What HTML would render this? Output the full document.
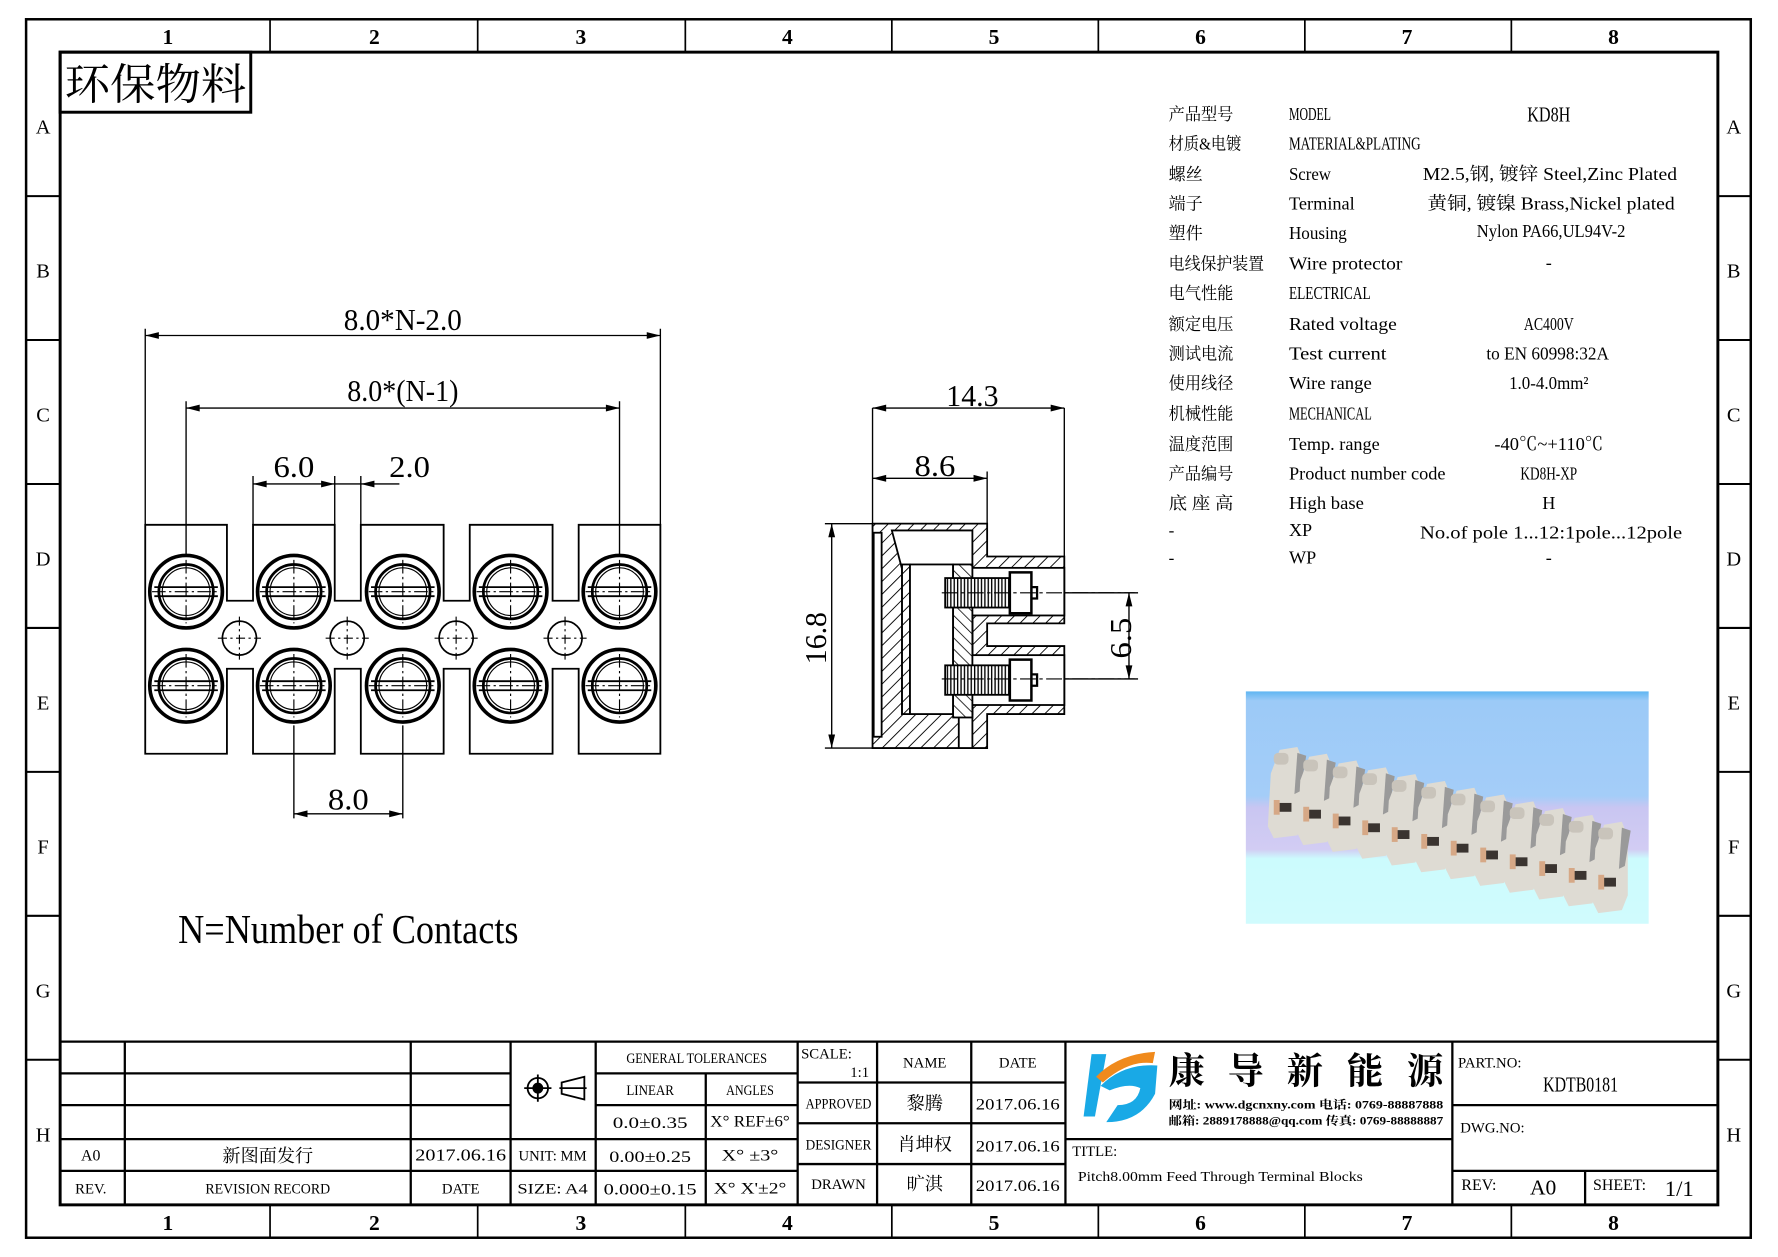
<!DOCTYPE html>
<html><head><meta charset="utf-8"><style>
html,body{margin:0;padding:0;background:#fff}
svg{display:block}
text{font-family:"Liberation Serif","Noto Serif CJK SC","Noto Sans CJK SC",serif;fill:#000}
.s{font-family:"Liberation Sans","Noto Sans CJK SC",sans-serif}
</style></head><body>
<svg xmlns="http://www.w3.org/2000/svg" width="1778" height="1257" viewBox="0 0 1567 1109" preserveAspectRatio="none">
<defs>
<pattern id="h" width="8" height="8" patternUnits="userSpaceOnUse" patternTransform="rotate(45)"><rect width="8" height="8" fill="#fff"/><line x1="0" y1="0" x2="0" y2="8" stroke="#000" stroke-width="1.6"/></pattern>
<pattern id="h2" width="7" height="7" patternUnits="userSpaceOnUse" patternTransform="rotate(-45)"><rect width="7" height="7" fill="#fff"/><line x1="0" y1="0" x2="0" y2="7" stroke="#000" stroke-width="1.4"/></pattern>
<pattern id="th" width="3" height="20" patternUnits="userSpaceOnUse"><rect width="3" height="20" fill="#fff"/><line x1="1" y1="0" x2="1" y2="20" stroke="#000" stroke-width="1.2"/></pattern>
<linearGradient id="bg" x1="0" y1="0" x2="0" y2="1">
<stop offset="0" stop-color="#5fb6f2"/><stop offset="0.04" stop-color="#9ccaf7"/><stop offset="0.45" stop-color="#a4cdf8"/><stop offset="0.5" stop-color="#c9c6f2"/><stop offset="0.68" stop-color="#d2ccf3"/><stop offset="0.72" stop-color="#ccfbfd"/><stop offset="1" stop-color="#d0fbfd"/></linearGradient>
<g id="sc" fill="none" stroke="#000">
<circle r="32" stroke-width="3.2"/><circle r="24" stroke-width="2.4"/><circle r="21" stroke-width="1"/>
<line x1="-28" y1="-4" x2="28" y2="-4" stroke-width="1.6"/><line x1="-28" y1="4" x2="28" y2="4" stroke-width="1.6"/>
<line x1="-30" y1="0" x2="30" y2="0" stroke-width="1" stroke-dasharray="12,3,2,3"/>
<line x1="0" y1="-28" x2="0" y2="28" stroke-width="1" stroke-dasharray="12,3,2,3"/>
</g>
<g id="sm" fill="none" stroke="#000" stroke-width="1.5"><circle r="15"/><line x1="-19" y1="0" x2="19" y2="0" stroke-width="1" stroke-dasharray="8,3,2,3"/><line x1="0" y1="-19" x2="0" y2="19" stroke-width="1" stroke-dasharray="8,3,2,3"/></g>
<g id="blk" transform="scale(1.3)"><path d="M0,8 L6,-8 L18,-10 L22,0 L22,40 L18,50 L2,52 L-2,44 Z" fill="#dedbd3"/><rect x="2" y="-6" width="10" height="8" rx="3" fill="#c9c4bb"/><path d="M18,-6 L24,-4 L20,20 L16,22Z" fill="#9a9a9a"/><rect x="4" y="28" width="10" height="6" fill="#3a3430"/><rect x="2" y="26" width="4" height="10" fill="#d6a886"/></g>
</defs>
<rect width="1567" height="1109" fill="#fff"/>
<!-- frame -->
<g fill="none" stroke="#000">
<rect x="23" y="17" width="1520" height="1075" stroke-width="2.2"/>
<rect x="53" y="46" width="1461" height="1017" stroke-width="2.6"/>
<path d="M238,17V46M421,17V46M604,17V46M786,17V46M968,17V46M1150,17V46M1332,17V46M238,1063V1092M421,1063V1092M604,1063V1092M786,1063V1092M968,1063V1092M1150,1063V1092M1332,1063V1092" stroke-width="1.5"/>
<path d="M23,173H53M23,300H53M23,427H53M23,554H53M23,681H53M23,808H53M23,935H53M1514,173H1543M1514,300H1543M1514,427H1543M1514,554H1543M1514,681H1543M1514,808H1543M1514,935H1543" stroke-width="1.8"/>
</g>
<g class="s" font-size="19" text-anchor="middle" font-weight="bold">
<text x="148" y="39">1</text><text x="330" y="39">2</text><text x="512" y="39">3</text><text x="694" y="39">4</text><text x="876" y="39">5</text><text x="1058" y="39">6</text><text x="1240" y="39">7</text><text x="1422" y="39">8</text>
<text x="148" y="1085">1</text><text x="330" y="1085">2</text><text x="512" y="1085">3</text><text x="694" y="1085">4</text><text x="876" y="1085">5</text><text x="1058" y="1085">6</text><text x="1240" y="1085">7</text><text x="1422" y="1085">8</text>
</g>
<g class="s" font-size="18" text-anchor="middle">
<text x="38" y="118">A</text><text x="38" y="245">B</text><text x="38" y="372">C</text><text x="38" y="499">D</text><text x="38" y="626">E</text><text x="38" y="753">F</text><text x="38" y="880">G</text><text x="38" y="1007">H</text>
<text x="1528" y="118">A</text><text x="1528" y="245">B</text><text x="1528" y="372">C</text><text x="1528" y="499">D</text><text x="1528" y="626">E</text><text x="1528" y="753">F</text><text x="1528" y="880">G</text><text x="1528" y="1007">H</text>
</g>
<rect x="53" y="46" width="168" height="53" fill="none" stroke="#000" stroke-width="2.6"/>
<text x="57" y="88" font-size="38" textLength="160" lengthAdjust="spacingAndGlyphs">环保物料</text>

<!-- front view -->
<g fill="none" stroke="#000" stroke-width="1.6">
<path d="M128,463H200V530H223V463H295V530H318V463H391V530H414V463H487V530H510V463H582V665H510V590H487V665H414V590H391V665H318V590H295V665H223V590H200V665H128Z" fill="#fff"/>
<path d="M128,290V463M582,290V463M128,296H582M164,354V490M546,354V490M164,360H546M223,420V463M295,420V463M318,420V463M223,427H295M295,427H352M259,640V722M355,640V722M259,718H355" stroke-width="1.2"/>
<path d="M128,296l12,-3v6zM582,296l-12,-3v6zM164,360l12,-3v6zM546,360l-12,-3v6zM223,427l12,-3v6zM295,427l-12,-3v6zM318,427l12,-3v6zM259,718l12,-3v6zM355,718l-12,-3v6z" fill="#000" stroke="none"/>
</g>
<use href="#sc" x="164" y="522"/><use href="#sc" x="259" y="522"/><use href="#sc" x="355" y="522"/><use href="#sc" x="450" y="522"/><use href="#sc" x="546" y="522"/>
<use href="#sc" x="164" y="605"/><use href="#sc" x="259" y="605"/><use href="#sc" x="355" y="605"/><use href="#sc" x="450" y="605"/><use href="#sc" x="546" y="605"/>
<use href="#sm" x="211" y="563"/><use href="#sm" x="306" y="563"/><use href="#sm" x="402" y="563"/><use href="#sm" x="498" y="563"/>
<g font-size="27" text-anchor="middle">
<text x="355" y="291" textLength="104" lengthAdjust="spacingAndGlyphs">8.0*N-2.0</text>
<text x="355" y="354" textLength="98" lengthAdjust="spacingAndGlyphs">8.0*(N-1)</text>
<text x="259" y="421" textLength="36" lengthAdjust="spacingAndGlyphs">6.0</text>
<text x="361" y="421" textLength="36" lengthAdjust="spacingAndGlyphs">2.0</text>
<text x="307" y="714" textLength="36" lengthAdjust="spacingAndGlyphs">8.0</text>
</g>
<text x="157" y="832" font-size="36" textLength="300" lengthAdjust="spacingAndGlyphs">N=Number of Contacts</text>

<!-- side view -->
<g stroke="#000" stroke-width="1.6" fill="none">
<path d="M769,360V462M938,360V491M870,416V462M769,360H938M769,422H870M727,462H769M727,660H769M733,462V660M938,523H1003M938,599H1003M995,523V599" stroke-width="1.2"/>
<path d="M769,360l12,-3v6zM938,360l-12,-3v6zM769,422l12,-3v6zM870,422l-12,-3v6zM733,462l-3,12h6zM733,660l-3,-12h6zM995,523l-3,12h6zM995,599l-3,-12h6z" fill="#000" stroke="none"/>
<path d="M769,462H870V491H938V550H870V570H938V630H870V660H769Z" fill="url(#h)"/>
<rect x="770" y="470" width="7" height="180" fill="#fff"/>
<path d="M786,468H857V660H845V502H795Z" fill="#fff"/>
<path d="M795,502H857V630H795Z" fill="#fff"/>
<rect x="795" y="498" width="7" height="132" fill="url(#h)"/>
<rect x="802" y="498" width="38" height="132" fill="#fff"/>
<rect x="840" y="498" width="17" height="135" fill="url(#h2)"/>
<rect x="857" y="501" width="81" height="42" fill="#fff"/>
<rect x="857" y="578" width="81" height="44" fill="#fff"/>
<rect x="833" y="510" width="57" height="26" fill="url(#th)"/>
<rect x="833" y="587" width="57" height="26" fill="url(#th)"/>
<path d="M890,505H909V541H890ZM890,582H909V618H890Z" fill="#fff" stroke-width="2.2"/>
<path d="M909,518h5v10h-5M909,595h5v10h-5" stroke-width="2"/>
<path d="M830,523H1000M830,599H1000" stroke-width="1" stroke-dasharray="14,3,3,3"/>
</g>
<g font-size="27" text-anchor="middle">
<text x="857" y="358" textLength="46" lengthAdjust="spacingAndGlyphs">14.3</text>
<text x="824" y="420" textLength="36" lengthAdjust="spacingAndGlyphs">8.6</text>
<text transform="translate(728,563) rotate(-90)" textLength="46" lengthAdjust="spacingAndGlyphs">16.8</text>
<text transform="translate(997,563) rotate(-90)" textLength="36" lengthAdjust="spacingAndGlyphs">6.5</text>
</g>

<!-- spec table -->
<g font-size="16">
<g font-size="15">
<text x="1030" y="106" textLength="57" lengthAdjust="spacingAndGlyphs">产品型号</text><text x="1030" y="132" textLength="64" lengthAdjust="spacingAndGlyphs">材质&amp;电镀</text><text x="1030" y="159">螺丝</text><text x="1030" y="185">端子</text><text x="1030" y="211">塑件</text><text x="1030" y="238" textLength="84" lengthAdjust="spacingAndGlyphs">电线保护装置</text><text x="1030" y="264" textLength="57" lengthAdjust="spacingAndGlyphs">电气性能</text><text x="1030" y="291" textLength="57" lengthAdjust="spacingAndGlyphs">额定电压</text><text x="1030" y="317" textLength="57" lengthAdjust="spacingAndGlyphs">测试电流</text><text x="1030" y="343" textLength="57" lengthAdjust="spacingAndGlyphs">使用线径</text><text x="1030" y="370" textLength="57" lengthAdjust="spacingAndGlyphs">机械性能</text><text x="1030" y="397" textLength="57" lengthAdjust="spacingAndGlyphs">温度范围</text><text x="1030" y="423" textLength="57" lengthAdjust="spacingAndGlyphs">产品编号</text><text x="1030" y="449" textLength="57" lengthAdjust="spacingAndGlyphs">底 座 高</text><text x="1030" y="473">-</text><text x="1030" y="497">-</text>
</g>
<g>
<text x="1136" y="106" textLength="37" lengthAdjust="spacingAndGlyphs">MODEL</text>
<text x="1136" y="132" textLength="116" lengthAdjust="spacingAndGlyphs">MATERIAL&amp;PLATING</text>
<text x="1136" y="159" textLength="37" lengthAdjust="spacingAndGlyphs">Screw</text>
<text x="1136" y="185" textLength="58" lengthAdjust="spacingAndGlyphs">Terminal</text>
<text x="1136" y="211" textLength="51" lengthAdjust="spacingAndGlyphs">Housing</text>
<text x="1136" y="238" textLength="100" lengthAdjust="spacingAndGlyphs">Wire protector</text>
<text x="1136" y="264" textLength="72" lengthAdjust="spacingAndGlyphs">ELECTRICAL</text>
<text x="1136" y="291" textLength="95" lengthAdjust="spacingAndGlyphs">Rated voltage</text>
<text x="1136" y="317" textLength="86" lengthAdjust="spacingAndGlyphs">Test current</text>
<text x="1136" y="343" textLength="73" lengthAdjust="spacingAndGlyphs">Wire range</text>
<text x="1136" y="370" textLength="73" lengthAdjust="spacingAndGlyphs">MECHANICAL</text>
<text x="1136" y="397" textLength="80" lengthAdjust="spacingAndGlyphs">Temp. range</text>
<text x="1136" y="423" textLength="138" lengthAdjust="spacingAndGlyphs">Product number code</text>
<text x="1136" y="449" textLength="66" lengthAdjust="spacingAndGlyphs">High base</text>
<text x="1136" y="473">XP</text>
<text x="1136" y="497">WP</text>
</g>
<g text-anchor="middle">
<text x="1365" y="107" font-size="19" textLength="38" lengthAdjust="spacingAndGlyphs">KD8H</text>
<text x="1366" y="159" textLength="224" lengthAdjust="spacingAndGlyphs">M2.5,钢, 镀锌 Steel,Zinc Plated</text>
<text x="1367" y="185" textLength="218" lengthAdjust="spacingAndGlyphs">黄铜, 镀镍 Brass,Nickel plated</text>
<text x="1367" y="209" textLength="131" lengthAdjust="spacingAndGlyphs">Nylon PA66,UL94V-2</text>
<text x="1365" y="237">-</text>
<text x="1365" y="291" textLength="44" lengthAdjust="spacingAndGlyphs">AC400V</text>
<text x="1364" y="317" textLength="108" lengthAdjust="spacingAndGlyphs">to EN 60998:32A</text>
<text x="1365" y="343" textLength="70" lengthAdjust="spacingAndGlyphs">1.0-4.0mm²</text>
<text x="1365" y="397" textLength="96" lengthAdjust="spacingAndGlyphs">-40℃~+110℃</text>
<text x="1365" y="423" textLength="50" lengthAdjust="spacingAndGlyphs">KD8H-XP</text>
<text x="1365" y="449">H</text>
<text x="1367" y="475" textLength="231" lengthAdjust="spacingAndGlyphs">No.of pole 1...12:1pole...12pole</text>
<text x="1365" y="497">-</text>
</g>
</g>

<!-- photo -->
<rect x="1098" y="610" width="355" height="205" fill="url(#bg)"/>
<g>
<use href="#blk" x="1120" y="672"/><use href="#blk" x="1146" y="678"/><use href="#blk" x="1172" y="684"/><use href="#blk" x="1198" y="690"/><use href="#blk" x="1224" y="696"/><use href="#blk" x="1250" y="702"/><use href="#blk" x="1276" y="708"/><use href="#blk" x="1302" y="714"/><use href="#blk" x="1328" y="720"/><use href="#blk" x="1354" y="726"/><use href="#blk" x="1380" y="732"/><use href="#blk" x="1406" y="738"/>
</g>

<!-- title block -->
<g fill="none" stroke="#000" stroke-width="2">
<path d="M53,919H1514"/>
<path d="M53,947H450M53,975H450M53,1005H703M53,1033H703M525,947H703M525,975H703"/>
<path d="M110,919V1063M362,919V1063M450,919V1063M525,919V1063M622,947V1063M703,919V1063M773,919V1063M856,919V1063M939,919V1063"/>
<path d="M703,955H939M703,991H939M703,1027H939"/>
<path d="M939,1005H1280M1280,919V1063M1280,975H1514M1280,1033H1514M1397,1033V1063"/>
</g>
<g fill="none" stroke="#000" stroke-width="1.6"><circle cx="474" cy="960" r="9"/><circle cx="474" cy="960" r="4" fill="#000"/><path d="M462,960H486M474,948V972M493,960H517M495,955L515,950V970L495,965Z"/></g>
<g font-size="13" text-anchor="middle">
<text x="614" y="938" textLength="124" lengthAdjust="spacingAndGlyphs">GENERAL TOLERANCES</text>
<text x="573" y="966" textLength="42" lengthAdjust="spacingAndGlyphs">LINEAR</text>
<text x="661" y="966" textLength="42" lengthAdjust="spacingAndGlyphs">ANGLES</text>
<text x="573" y="995" font-size="14" textLength="66" lengthAdjust="spacingAndGlyphs">0.0±0.35</text>
<text x="661" y="994" font-size="14" textLength="70" lengthAdjust="spacingAndGlyphs">X° REF±6°</text>
<text x="80" y="1024" font-size="14">A0</text>
<text x="236" y="1025" font-size="16">新图面发行</text>
<text x="406" y="1024" font-size="15" textLength="80" lengthAdjust="spacingAndGlyphs">2017.06.16</text>
<text x="487" y="1024" textLength="60" lengthAdjust="spacingAndGlyphs">UNIT: MM</text>
<text x="573" y="1025" font-size="14" textLength="72" lengthAdjust="spacingAndGlyphs">0.00±0.25</text>
<text x="661" y="1024" font-size="14" textLength="50" lengthAdjust="spacingAndGlyphs">X° ±3°</text>
<text x="80" y="1053">REV.</text>
<text x="236" y="1053" textLength="110" lengthAdjust="spacingAndGlyphs">REVISION RECORD</text>
<text x="406" y="1053">DATE</text>
<text x="487" y="1053" textLength="62" lengthAdjust="spacingAndGlyphs">SIZE: A4</text>
<text x="573" y="1054" font-size="14" textLength="82" lengthAdjust="spacingAndGlyphs">0.000±0.15</text>
<text x="661" y="1053" font-size="14" textLength="64" lengthAdjust="spacingAndGlyphs">X° X'±2°</text>
<text x="815" y="942">NAME</text><text x="897" y="942">DATE</text>
<text x="739" y="978" textLength="58" lengthAdjust="spacingAndGlyphs">APPROVED</text>
<text x="815" y="979" font-size="16">黎腾</text>
<text x="897" y="979" font-size="14" textLength="74" lengthAdjust="spacingAndGlyphs">2017.06.16</text>
<text x="739" y="1014" textLength="58" lengthAdjust="spacingAndGlyphs">DESIGNER</text>
<text x="815" y="1015" font-size="16">肖坤权</text>
<text x="897" y="1016" font-size="14" textLength="74" lengthAdjust="spacingAndGlyphs">2017.06.16</text>
<text x="739" y="1049">DRAWN</text>
<text x="815" y="1050" font-size="16">旷淇</text>
<text x="897" y="1051" font-size="14" textLength="74" lengthAdjust="spacingAndGlyphs">2017.06.16</text>
</g>
<text x="706" y="934" font-size="13">SCALE:</text><text x="766" y="950" font-size="13" text-anchor="end">1:1</text>
<!-- logo -->
<path d="M962,930 L975,930 L965,985 L955,985Z" fill="#19a9e6"/>
<path d="M970,958 Q990,938 1020,940 L1018,965 Q1005,990 975,990 L985,975 Q1002,975 1005,960 Q995,955 978,962Z" fill="#19a9e6"/>
<path d="M966,950 Q985,930 1018,928 L1016,938 Q995,935 972,955Z" fill="#f08a1c"/>
<g font-size="32" class="s" font-weight="bold"><text x="1030" y="956">康</text><text x="1082" y="956">导</text><text x="1134" y="956">新</text><text x="1187" y="956">能</text><text x="1240" y="956">源</text></g>
<g class="s" font-size="10" font-weight="bold">
<text x="1030" y="978" textLength="242" lengthAdjust="spacingAndGlyphs">网址: www.dgcnxny.com      电话: 0769-88887888</text>
<text x="1030" y="992" textLength="242" lengthAdjust="spacingAndGlyphs">邮箱: 2889178888@qq.com 传真: 0769-88888887</text>
</g>
<text x="945" y="1020" font-size="13">TITLE:</text>
<text x="950" y="1042" font-size="12" textLength="251" lengthAdjust="spacingAndGlyphs">Pitch8.00mm Feed Through Terminal Blocks</text>
<text x="1285" y="942" font-size="13">PART.NO:</text>
<text x="1393" y="963" font-size="19" text-anchor="middle" textLength="66" lengthAdjust="spacingAndGlyphs">KDTB0181</text>
<text x="1287" y="999" font-size="13">DWG.NO:</text>
<text x="1288" y="1050" font-size="14">REV:</text>
<text x="1360" y="1054" font-size="19" text-anchor="middle">A0</text>
<text x="1404" y="1050" font-size="14">SHEET:</text>
<text x="1480" y="1055" font-size="20" text-anchor="middle">1/1</text>
</svg>
</body></html>
